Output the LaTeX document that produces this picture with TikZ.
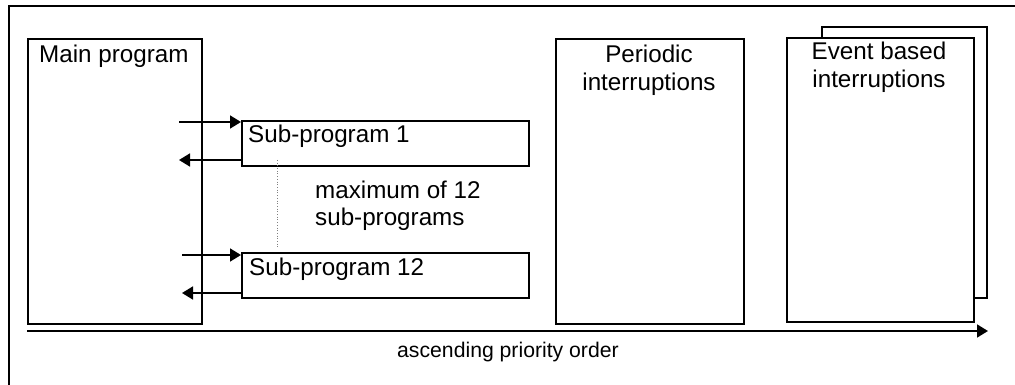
\documentclass[tikz,border=0pt]{standalone}
\usepackage{fontspec}
\setmainfont{Liberation Sans}
\usetikzlibrary{arrows.meta}
\tikzset{
  box/.style={draw=black, line width=1.7pt, fill=white, rectangle, inner sep=0pt, anchor=north west},
  txt/.style={inner sep=0pt, font=\fontsize{24.2}{27.5}\selectfont},
  smalltxt/.style={inner sep=0pt, font=\fontsize{21.2}{25}\selectfont},
  conn/.style={line width=1.7pt, -{Triangle[length=11pt,width=13pt]}},
  frame/.style={line width=2.6pt, line cap=rect},
}
\begin{document}
\begin{tikzpicture}[x=1pt,y=-1pt]
\useasboundingbox (0,0) rectangle (1015,385);
% outer frame (cut by the page)
\coordinate (fa) at (9,385);
\coordinate (fb) at (9,6);
\coordinate (fc) at (1015,6);
\draw[frame] (fa) -- (fb) -- (fc);

% main program
\node[box, minimum width=174pt, minimum height=285pt] (main) at (27,38) {};
\node[txt, anchor=base west] (maint) at (39,63) {Main program};

% sub-programs
\node[box, minimum width=287pt, minimum height=45pt] (sub1) at (241,120) {};
\node[txt, anchor=base west] (sub1t) at (248,143) {Sub-program 1};
\node[box, minimum width=287pt, minimum height=45pt] (sub12) at (241,252) {};
\node[txt, anchor=base west] (sub12t) at (249,275) {Sub-program 12};

% arrows between main program and sub-programs
\coordinate (a1s) at (179,122);
\coordinate (a1e) at (179,160);
\coordinate (a2s) at (182,255);
\coordinate (a2e) at (182,293);
\draw[conn] (a1s) -- (a1s -| sub1.west);
\draw[conn] (a1e -| sub1.west) -- (a1e);
\draw[conn] (a2s) -- (a2s -| sub12.west);
\draw[conn] (a2e -| sub12.west) -- (a2e);

% dotted line between sub-programs
\coordinate (d1) at (277,160);
\coordinate (d2) at (277,249);
\draw[line width=0.7pt, dotted, gray] (d1) -- (d2);
\node[txt, anchor=base west, align=left] (maxt) at (315,198) {maximum of 12};
\node[txt, anchor=base west, align=left] (maxt2) at (315,225) {sub-programs};

% periodic interruptions
\node[box, minimum width=188pt, minimum height=285pt] (per) at (555,38) {};
\node[txt, anchor=base] (pert1) at (649,63) {Periodic};
\node[txt, anchor=base] (pert2) at (649,91) {interruptions};

% event based interruptions
\node[box, minimum width=165pt, minimum height=271pt] (evb) at (821,26) {};
\node[box, minimum width=187pt, minimum height=284pt] (evf) at (786,37) {};
\node[txt, anchor=base] (evt1) at (879,60) {Event based};
\node[txt, anchor=base] (evt2) at (879,88) {interruptions};

% priority axis
\coordinate (ax1) at (27,331);
\coordinate (ax2) at (988,331);
\draw[conn] (ax1) -- (ax2);
\node[smalltxt, anchor=base west] (axt) at (397,357) {ascending priority order};
\end{tikzpicture}
\end{document}
